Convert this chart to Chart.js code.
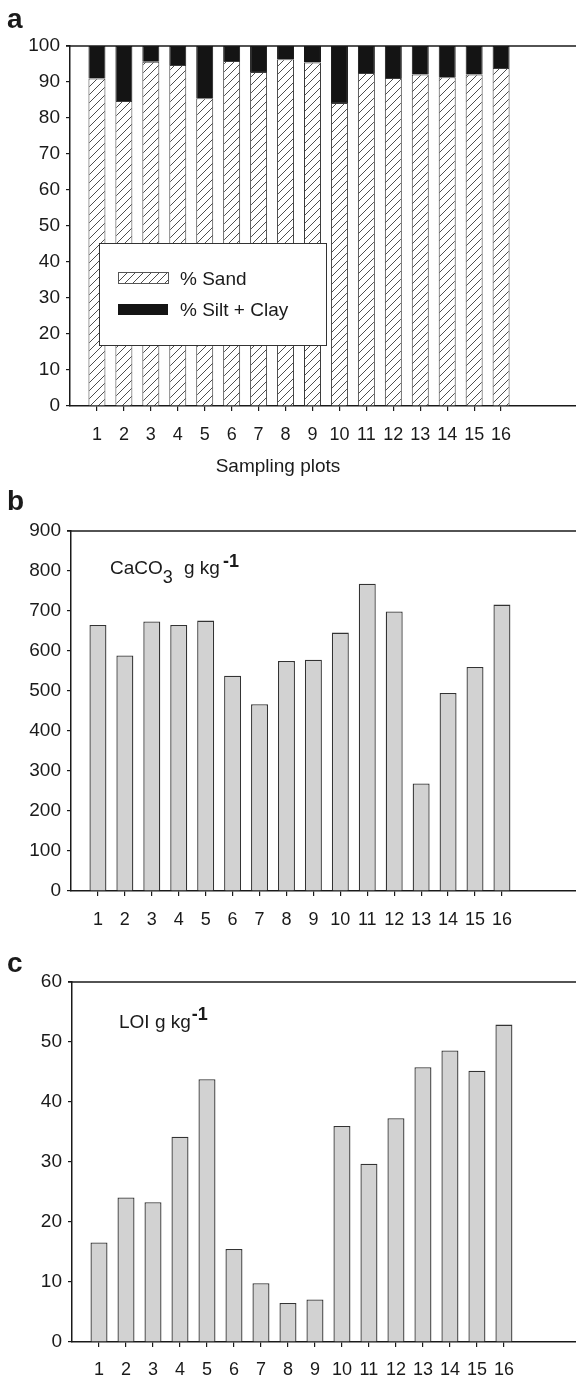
<!DOCTYPE html>
<html>
<head>
<meta charset="utf-8">
<script src="https://cdn.jsdelivr.net/npm/chart.js@4/dist/chart.umd.min.js"></script>
<style>
  html, body { margin: 0; padding: 0; background: #fff; }
  #page { position: relative; width: 576px; height: 1379px; overflow: hidden; }
  canvas { position: absolute; left: 0; }
</style>
</head>
<body>
<div id="page">
  <canvas id="chart-a" width="576" height="490" style="top:0px"></canvas>
  <canvas id="chart-b" width="576" height="460" style="top:480px"></canvas>
  <canvas id="chart-c" width="576" height="449" style="top:930px"></canvas>
</div>
<script>
// --- data ---
const PLOTS     = [1, 2, 3, 4, 5, 6, 7, 8, 9, 10, 11, 12, 13, 14, 15, 16];
const SAND      = [91.0, 84.7, 95.6, 94.7, 85.5, 95.8, 92.8, 96.3, 95.4, 84.2, 92.5, 91.1, 92.1, 91.3, 92.1, 93.9];
const SILT_CLAY = [9.0, 15.3, 4.4, 5.3, 14.5, 4.2, 7.2, 3.7, 4.6, 15.8, 7.5, 8.9, 7.9, 8.7, 7.9, 6.1];
const CACO3     = [665, 589, 674, 665, 676, 538, 467, 575, 578, 646, 768, 699, 269, 495, 560, 716];
const LOI       = [16.6, 24.1, 23.3, 34.2, 43.8, 15.5, 9.8, 6.5, 7.1, 36.0, 29.7, 37.3, 45.8, 48.6, 45.2, 52.9];

const Y_RANGE_A = [0, 100, 10];
const Y_RANGE_B = [0, 900, 100];
const Y_RANGE_C = [0, 60, 10];
// the frame runs off the right edge of the figure, so the x range is wider than 0..17
const X_MAX_A = 18.78;
const X_MAX_B = 18.75;
const X_MAX_C = 18.67;

const INK  = '#1a1a1a';
const FONT = "Arial, 'Liberation Sans', Helvetica, sans-serif";
const GRAY = '#d2d2d2';

// diagonal hatch for % Sand
function makeHatch() {
  const c = document.createElement('canvas');
  c.width = 8; c.height = 8;
  const g = c.getContext('2d');
  g.fillStyle = '#fff';
  g.fillRect(0, 0, 8, 8);
  g.strokeStyle = '#3a3a3a';
  g.lineWidth = 0.9;
  g.beginPath();
  g.moveTo(0, 8); g.lineTo(8, 0);
  g.moveTo(-2, 2); g.lineTo(2, -2);
  g.moveTo(6, 10); g.lineTo(10, 6);
  g.stroke();
  return g.createPattern(c, 'repeat');
}
const HATCH = makeHatch();

const toXY = vals => vals.map((v, i) => ({ x: PLOTS[i], y: v }));

// top frame line + panel letter + free text
function decorPlugin(letter, letterY, extra) {
  return {
    id: 'decor',
    afterDraw(chart) {
      const { ctx, chartArea: a } = chart;
      ctx.save();
      ctx.strokeStyle = INK;
      ctx.lineWidth = 1.5;
      ctx.beginPath();
      ctx.moveTo(a.left - 4, a.top);
      ctx.lineTo(a.right, a.top);
      ctx.stroke();

      ctx.fillStyle = INK;
      ctx.font = `bold 28px ${FONT}`;
      ctx.textBaseline = 'alphabetic';
      ctx.textAlign = 'left';
      ctx.fillText(letter, 7, letterY);
      if (extra) extra(ctx, a);
      ctx.restore();
    }
  };
}

function xScale(max, padBottom, height) {
  return {
    type: 'linear',
    min: 0,
    max: max,
    offset: false,
    stacked: true,
    afterFit: s => { s.height = height; },
    afterBuildTicks: s => { s.ticks = PLOTS.map(v => ({ value: v })); },
    border: { display: true, color: INK, width: 1.5 },
    grid: {
      offset: false,
      drawOnChartArea: false,
      drawTicks: true,
      tickLength: 5,
      lineWidth: 1.2,
      color: INK,
    },
    ticks: {
      autoSkip: false,
      maxRotation: 0,
      padding: padBottom,
      color: INK,
      font: { family: FONT, size: 18 },
      callback: v => String(v),
    },
  };
}

function yScale(range, width) {
  return {
    min: range[0],
    max: range[1],
    stacked: true,
    afterFit: s => { s.width = width; },
    border: { display: true, color: INK, width: 1.5 },
    grid: { drawOnChartArea: false, drawTicks: true, tickLength: 4, lineWidth: 1.2, color: INK },
    ticks: {
      stepSize: range[2],
      padding: 6,
      color: INK,
      font: { family: FONT, size: 19 },
    },
  };
}

const baseOptions = {
  responsive: false,
  animation: false,
  events: [],
  plugins: { legend: { display: false }, tooltip: { enabled: false } },
};

// --- panel a: texture ---
new Chart(document.getElementById('chart-a'), {
  type: 'bar',
  data: {
    datasets: [
      { label: '% Sand', data: toXY(SAND), backgroundColor: HATCH, borderColor: '#3a3a3a', borderWidth: 1, barPercentage: 0.63, categoryPercentage: 1 },
      { label: '% Silt + Clay', data: toXY(SILT_CLAY), backgroundColor: '#141414', borderColor: '#141414', borderWidth: 1, barPercentage: 0.63, categoryPercentage: 1 },
    ],
  },
  options: {
    ...baseOptions,
    layout: { padding: { top: 46, right: 0, left: 0, bottom: 0 } },
    scales: { x: xScale(X_MAX_A, 13, 84), y: yScale(Y_RANGE_A, 70) },
  },
  plugins: [decorPlugin('a', 28, (ctx, a) => {
    // legend box
    ctx.fillStyle = '#fff';
    ctx.fillRect(99, 243, 227, 102);
    ctx.strokeStyle = '#333';
    ctx.lineWidth = 1;
    ctx.strokeRect(99.5, 243.5, 227, 102);
    ctx.fillStyle = HATCH;
    ctx.fillRect(118, 272, 50, 11);
    ctx.strokeStyle = '#555';
    ctx.strokeRect(118.5, 272.5, 50, 11);
    ctx.fillStyle = '#141414';
    ctx.fillRect(118, 304, 50, 11);
    ctx.fillStyle = INK;
    ctx.font = `19px ${FONT}`;
    ctx.textBaseline = 'middle';
    ctx.fillText('% Sand', 180, 280);
    ctx.fillText('% Silt + Clay', 180, 311);
    // axis title
    ctx.textAlign = 'center';
    ctx.textBaseline = 'alphabetic';
    ctx.fillText('Sampling plots', 278, 472);
  })],
});

// --- panel b: CaCO3 ---
new Chart(document.getElementById('chart-b'), {
  type: 'bar',
  data: {
    datasets: [
      { label: 'CaCO3', data: toXY(CACO3), backgroundColor: GRAY, borderColor: '#333', borderWidth: 1.3, barPercentage: 0.63, categoryPercentage: 1 },
    ],
  },
  options: {
    ...baseOptions,
    layout: { padding: { top: 51, right: 0, left: 0, bottom: 0 } },
    scales: { x: xScale(X_MAX_B, 13, 49), y: yScale(Y_RANGE_B, 71) },
  },
  plugins: [decorPlugin('b', 30, ctx => {
    ctx.fillStyle = INK;
    ctx.font = `19px ${FONT}`;
    ctx.fillText('CaCO', 110, 94);
    const w = ctx.measureText('CaCO').width;
    ctx.font = `18px ${FONT}`;
    ctx.fillText('3', 110 + w, 103);
    ctx.font = `19px ${FONT}`;
    ctx.fillText('g kg', 184, 94);
    ctx.font = `bold 18px ${FONT}`;
    ctx.fillText('-1', 223, 87);
  })],
});

// --- panel c: LOI ---
new Chart(document.getElementById('chart-c'), {
  type: 'bar',
  data: {
    datasets: [
      { label: 'LOI', data: toXY(LOI), backgroundColor: GRAY, borderColor: '#333', borderWidth: 1.3, barPercentage: 0.63, categoryPercentage: 1 },
    ],
  },
  options: {
    ...baseOptions,
    layout: { padding: { top: 52, right: 0, left: 0, bottom: 0 } },
    scales: { x: xScale(X_MAX_C, 12, 37), y: yScale(Y_RANGE_C, 72) },
  },
  plugins: [decorPlugin('c', 42, ctx => {
    ctx.fillStyle = INK;
    ctx.font = `19px ${FONT}`;
    ctx.fillText('LOI g kg', 119, 98);
    const w = ctx.measureText('LOI g kg').width;
    ctx.font = `bold 18px ${FONT}`;
    ctx.fillText('-1', 119 + w + 1, 90);
  })],
});
</script>
</body>
</html>
